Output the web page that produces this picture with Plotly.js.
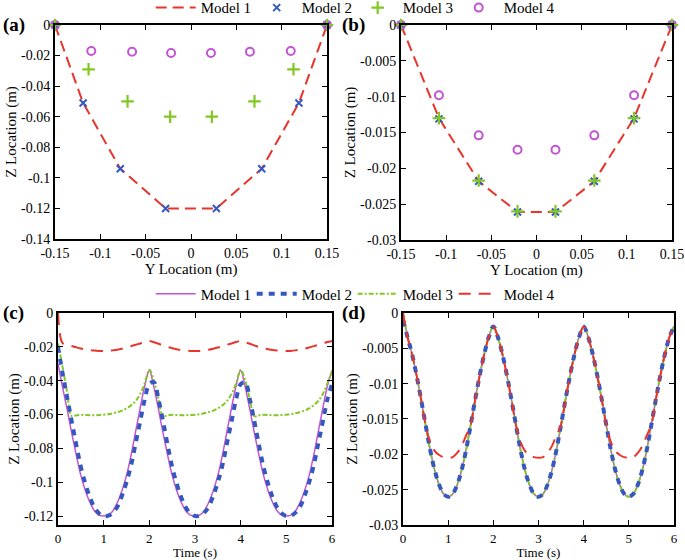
<!DOCTYPE html>
<html>
<head>
<meta charset="utf-8">
<script src="https://cdn.plot.ly/plotly-3.0.1.min.js"></script>
<style>
  html, body { margin: 0; padding: 0; background: #fff; }
  #chart { width: 685px; height: 560px; }
  svg text { font-family: "Liberation Serif", "Times New Roman", "DejaVu Serif", serif !important; }
</style>
</head>
<body>
<div id="chart"></div>
<script>
// ---- panel (a): cable shape, Z vs Y ----
const aM1Y = [-0.15, -0.119, -0.078, -0.028, 0.028, 0.078, 0.119, 0.15];
const aM1Z = [0, -0.051, -0.094, -0.120, -0.120, -0.094, -0.051, 0];
const aM2Y = [-0.15, -0.119, -0.078, -0.028, 0.028, 0.078, 0.119, 0.15];
const aM2Z = [0, -0.051, -0.094, -0.120, -0.120, -0.094, -0.051, 0];
const aM3Y = [-0.15, -0.113, -0.070, -0.023, 0.023, 0.070, 0.113, 0.15];
const aM3Z = [0, -0.029, -0.050, -0.060, -0.060, -0.050, -0.029, 0];
const aM4Y = [-0.15, -0.110, -0.065, -0.022, 0.022, 0.065, 0.110, 0.15];
const aM4Z = [0, -0.0170, -0.0175, -0.0183, -0.0183, -0.0175, -0.0170, 0];

// ---- panel (b) ----
const bM1Y = [-0.15, -0.108, -0.064, -0.021, 0.021, 0.064, 0.108, 0.15];
const bM1Z = [0, -0.0130, -0.0218, -0.0261, -0.0261, -0.0218, -0.0130, 0];
const bM2Y = [-0.15, -0.108, -0.064, -0.021, 0.021, 0.064, 0.108, 0.15];
const bM2Z = [0, -0.0131, -0.0218, -0.0261, -0.0261, -0.0218, -0.0131, 0];
const bM3Y = [-0.15, -0.108, -0.064, -0.021, 0.021, 0.064, 0.108, 0.15];
const bM3Z = [0, -0.0130, -0.0217, -0.0260, -0.0260, -0.0217, -0.0130, 0];
const bM4Y = [-0.15, -0.108, -0.064, -0.021, 0.021, 0.064, 0.108, 0.15];
const bM4Z = [0, -0.0098, -0.0154, -0.0174, -0.0174, -0.0154, -0.0098, 0];

// ---- time axis for (c) and (d) ----
const time = [0, 0.1, 0.2, 0.3, 0.4, 0.5, 0.6, 0.7, 0.8, 0.9,
  1, 1.1, 1.2, 1.3, 1.4, 1.5, 1.6, 1.7, 1.8, 1.9,
  2, 2.1, 2.2, 2.3, 2.4, 2.5, 2.6, 2.7, 2.8, 2.9,
  3, 3.1, 3.2, 3.3, 3.4, 3.5, 3.6, 3.7, 3.8, 3.9,
  4, 4.1, 4.2, 4.3, 4.4, 4.5, 4.6, 4.7, 4.8, 4.9,
  5, 5.1, 5.2, 5.3, 5.4, 5.5, 5.6, 5.7, 5.8, 5.9, 6];

// ---- panel (c): Z at midpoint vs time ----
const cM1 = [-0.030, -0.044, -0.057, -0.071, -0.084, -0.096, -0.105, -0.112, -0.117, -0.1195,
  -0.120, -0.1195, -0.117, -0.112, -0.105, -0.096, -0.084, -0.070, -0.056, -0.043,
  -0.034, -0.044, -0.057, -0.071, -0.084, -0.096, -0.105, -0.112, -0.117, -0.1195,
  -0.120, -0.1195, -0.117, -0.112, -0.105, -0.096, -0.084, -0.070, -0.056, -0.043,
  -0.034, -0.044, -0.057, -0.071, -0.084, -0.096, -0.105, -0.112, -0.117, -0.1195,
  -0.120, -0.1195, -0.117, -0.112, -0.105, -0.096, -0.084, -0.070, -0.056, -0.043, -0.034];
const cM2 = [-0.020, -0.036, -0.050, -0.064, -0.078, -0.091, -0.101, -0.109, -0.115, -0.1185,
  -0.120, -0.1198, -0.118, -0.1145, -0.108, -0.100, -0.090, -0.077, -0.064, -0.051,
  -0.042, -0.041, -0.051, -0.064, -0.078, -0.091, -0.101, -0.109, -0.115, -0.1185,
  -0.120, -0.1198, -0.118, -0.1145, -0.108, -0.100, -0.090, -0.077, -0.064, -0.051,
  -0.042, -0.041, -0.051, -0.064, -0.078, -0.091, -0.101, -0.109, -0.115, -0.1185,
  -0.120, -0.1198, -0.118, -0.1145, -0.108, -0.100, -0.090, -0.077, -0.064, -0.051, -0.042];
const cM3 = [-0.018, -0.032, -0.047, -0.061, -0.0605, -0.0602, -0.0603, -0.0604, -0.0604, -0.0603,
  -0.0601, -0.0598, -0.0593, -0.0586, -0.0577, -0.0564, -0.0546, -0.0520, -0.0478, -0.0415,
  -0.0335, -0.040, -0.051, -0.061, -0.0605, -0.0602, -0.0603, -0.0604, -0.0604, -0.0603,
  -0.0601, -0.0598, -0.0593, -0.0586, -0.0577, -0.0564, -0.0546, -0.0520, -0.0478, -0.0415,
  -0.0335, -0.040, -0.051, -0.061, -0.0605, -0.0602, -0.0603, -0.0604, -0.0604, -0.0603,
  -0.0601, -0.0598, -0.0593, -0.0586, -0.0577, -0.0564, -0.0546, -0.0520, -0.0478, -0.0415, -0.0345];
const cM4 = [0, -0.0178, -0.0186, -0.0195, -0.0203, -0.0210, -0.0215, -0.0219, -0.0222, -0.0224,
  -0.0225, -0.0224, -0.0221, -0.0217, -0.0211, -0.0204, -0.0196, -0.0188, -0.0180, -0.0172,
  -0.0165, -0.0173, -0.0182, -0.0192, -0.0201, -0.0208, -0.0214, -0.0219, -0.0222, -0.0224,
  -0.0225, -0.0224, -0.0221, -0.0217, -0.0211, -0.0204, -0.0196, -0.0188, -0.0180, -0.0172,
  -0.0165, -0.0173, -0.0182, -0.0192, -0.0201, -0.0208, -0.0214, -0.0219, -0.0222, -0.0224,
  -0.0225, -0.0224, -0.0221, -0.0217, -0.0211, -0.0204, -0.0196, -0.0188, -0.0180, -0.0172, -0.0165];

// ---- panel (d) ----
const dM1 = [0, -0.0034, -0.0058, -0.0088, -0.0122, -0.0158, -0.0193, -0.0222, -0.0243, -0.0256,
  -0.0260, -0.0256, -0.0243, -0.0222, -0.0193, -0.0158, -0.0122, -0.0088, -0.0058, -0.0034,
  -0.0019, -0.0034, -0.0058, -0.0088, -0.0122, -0.0158, -0.0193, -0.0222, -0.0243, -0.0256,
  -0.0260, -0.0256, -0.0243, -0.0222, -0.0193, -0.0158, -0.0122, -0.0088, -0.0058, -0.0034,
  -0.0019, -0.0034, -0.0058, -0.0088, -0.0122, -0.0158, -0.0193, -0.0222, -0.0243, -0.0256,
  -0.0260, -0.0256, -0.0243, -0.0222, -0.0193, -0.0158, -0.0122, -0.0088, -0.0058, -0.0034, -0.0019];
const dM2 = [-0.0010, -0.0034, -0.0058, -0.0088, -0.0122, -0.0158, -0.0193, -0.0222, -0.0243, -0.0256,
  -0.0260, -0.0256, -0.0243, -0.0222, -0.0193, -0.0158, -0.0122, -0.0088, -0.0058, -0.0034,
  -0.0019, -0.0034, -0.0058, -0.0088, -0.0122, -0.0158, -0.0193, -0.0222, -0.0243, -0.0256,
  -0.0260, -0.0256, -0.0243, -0.0222, -0.0193, -0.0158, -0.0122, -0.0088, -0.0058, -0.0034,
  -0.0019, -0.0034, -0.0058, -0.0088, -0.0122, -0.0158, -0.0193, -0.0222, -0.0243, -0.0256,
  -0.0260, -0.0256, -0.0243, -0.0222, -0.0193, -0.0158, -0.0122, -0.0088, -0.0058, -0.0034, -0.0019];
const dM3 = [0, -0.0033, -0.0058, -0.0088, -0.0122, -0.0158, -0.0193, -0.0222, -0.0243, -0.0256,
  -0.0260, -0.0256, -0.0243, -0.0222, -0.0193, -0.0158, -0.0122, -0.0088, -0.0058, -0.0034,
  -0.0019, -0.0034, -0.0058, -0.0088, -0.0122, -0.0158, -0.0193, -0.0222, -0.0243, -0.0256,
  -0.0260, -0.0256, -0.0243, -0.0222, -0.0193, -0.0158, -0.0122, -0.0088, -0.0058, -0.0034,
  -0.0019, -0.0034, -0.0058, -0.0088, -0.0122, -0.0158, -0.0193, -0.0222, -0.0243, -0.0256,
  -0.0260, -0.0256, -0.0243, -0.0222, -0.0193, -0.0158, -0.0122, -0.0088, -0.0058, -0.0034, -0.0019];
const dM4 = [0, -0.0034, -0.0058, -0.0088, -0.0122, -0.0158, -0.0182, -0.0195, -0.0201, -0.0204,
  -0.0205, -0.0204, -0.0198, -0.0188, -0.0173, -0.0158, -0.0122, -0.0088, -0.0058, -0.0034,
  -0.0019, -0.0034, -0.0058, -0.0088, -0.0122, -0.0158, -0.0182, -0.0195, -0.0201, -0.0204,
  -0.0205, -0.0204, -0.0198, -0.0188, -0.0173, -0.0158, -0.0122, -0.0088, -0.0058, -0.0034,
  -0.0019, -0.0034, -0.0058, -0.0088, -0.0122, -0.0158, -0.0182, -0.0195, -0.0201, -0.0204,
  -0.0205, -0.0204, -0.0198, -0.0188, -0.0173, -0.0158, -0.0122, -0.0088, -0.0058, -0.0034, -0.0019];

// ---- tick labels ----
const yLocTicks = [-0.15, -0.1, -0.05, 0, 0.05, 0.1, 0.15];
const yLocLabels = ['-0.15', '-0.1', '-0.05', '0', '0.05', '0.1', '0.15'];
const zTicksA = [-0.14, -0.12, -0.1, -0.08, -0.06, -0.04, -0.02, 0];
const zLabelsA = ['-0.14', '-0.12', '-0.1', '-0.08', '-0.06', '-0.04', '-0.02', '0'];
const zTicksB = [-0.03, -0.025, -0.02, -0.015, -0.01, -0.005, 0];
const zLabelsB = ['-0.03', '-0.025', '-0.02', '-0.015', '-0.01', '-0.005', '0'];
const timeTicks = [0, 1, 2, 3, 4, 5, 6];
const timeLabels = ['0', '1', '2', '3', '4', '5', '6'];
const zTicksC = [-0.12, -0.1, -0.08, -0.06, -0.04, -0.02, 0];
const zLabelsC = ['-0.12', '-0.1', '-0.08', '-0.06', '-0.04', '-0.02', '0'];

const RED = '#e8352b', BLUE = '#3558c0', GREEN = '#82c823', PURPLE = '#c256d2';
const FONT = 'Liberation Serif';

function axis(domain, anchor, range, vals, labels, title, small) {
  return {
    domain: domain, anchor: anchor, range: range, automargin: false,
    tickmode: 'array', tickvals: vals, ticktext: labels,
    ticks: 'inside', ticklen: 5, tickwidth: 1, tickcolor: 'black',
    showline: true, mirror: 'ticks', linewidth: 2, linecolor: 'black',
    showgrid: false, zeroline: false,
    tickfont: { family: FONT, size: small ? 13 : 14, color: 'black' },
    title: { text: title, font: { family: FONT, size: small ? 13 : 15, color: 'black' }, standoff: small ? 0 : 1 }
  };
}

const traces = [];

// (a) and (b) shape panels
[[aM1Y, aM1Z, aM2Y, aM2Z, aM3Y, aM3Z, aM4Y, aM4Z, 'x', 'y', true],
 [bM1Y, bM1Z, bM2Y, bM2Z, bM3Y, bM3Z, bM4Y, bM4Z, 'x2', 'y2', false]].forEach(p => {
  traces.push({ x: p[0], y: p[1], xaxis: p[8], yaxis: p[9], name: 'Model 1', mode: 'lines',
    line: { color: RED, width: 2, dash: '11px,6px' }, showlegend: p[10], legend: 'legend', legendrank: 1 });
  traces.push({ x: p[2], y: p[3], xaxis: p[8], yaxis: p[9], name: 'Model 2', mode: 'markers',
    marker: { symbol: 'x-thin', size: 7, line: { color: BLUE, width: 2 } },
    cliponaxis: false, showlegend: p[10], legend: 'legend', legendrank: 2 });
  traces.push({ x: p[6], y: p[7], xaxis: p[8], yaxis: p[9], name: 'Model 4', mode: 'markers',
    marker: { symbol: 'circle-open', size: 8, color: PURPLE, line: { color: PURPLE, width: 2 } },
    cliponaxis: false, showlegend: p[10], legend: 'legend', legendrank: 4 });
  traces.push({ x: p[4], y: p[5], xaxis: p[8], yaxis: p[9], name: 'Model 3', mode: 'markers',
    marker: { symbol: 'cross-thin', size: 9, line: { color: GREEN, width: 2.2 } },
    cliponaxis: false, showlegend: p[10], legend: 'legend', legendrank: 3 });
});

// (c) and (d) time histories
[[cM1, cM2, cM3, cM4, 'x3', 'y3', true], [dM1, dM2, dM3, dM4, 'x4', 'y4', false]].forEach(p => {
  traces.push({ x: time, y: p[0], xaxis: p[4], yaxis: p[5], name: 'Model 1', mode: 'lines',
    line: { color: PURPLE, width: 1.5, shape: 'spline' }, showlegend: p[6], legend: 'legend2', legendrank: 1 });
  traces.push({ x: time, y: p[2], xaxis: p[4], yaxis: p[5], name: 'Model 3', mode: 'lines',
    line: { color: GREEN, width: 2, dash: '5px,2px,2px,2px', shape: 'spline' }, showlegend: p[6], legend: 'legend2', legendrank: 3 });
  traces.push({ x: time, y: p[1], xaxis: p[4], yaxis: p[5], name: 'Model 2', mode: 'lines',
    line: { color: BLUE, width: 4, dash: '6px,6px', shape: 'spline' }, showlegend: p[6], legend: 'legend2', legendrank: 2 });
  traces.push({ x: time, y: p[3], xaxis: p[4], yaxis: p[5], name: 'Model 4', mode: 'lines',
    line: { color: RED, width: 2, dash: '12px,8px', shape: 'spline' }, showlegend: p[6], legend: 'legend2', legendrank: 4 });
});

const legendBase = {
  orientation: 'h', xanchor: 'left', yanchor: 'middle',
  font: { family: FONT, size: 15, color: 'black' },
  entrywidth: 46, entrywidthmode: 'pixels', itemwidth: 40,
  bgcolor: 'rgba(0,0,0,0)', traceorder: 'normal'
};

const layout = {
  width: 685, height: 560,
  margin: { l: 0, r: 0, t: 0, b: 0, autoexpand: false },
  paper_bgcolor: 'white', plot_bgcolor: 'white',
  font: { family: FONT, color: 'black' },
  showlegend: true,
  legend: Object.assign({}, legendBase, { x: 0.22, y: 0.986 }),
  legend2: Object.assign({}, legendBase, { x: 0.22, y: 0.475 }),
  xaxis: axis([0.0803, 0.4774], 'y', [-0.15, 0.15], yLocTicks, yLocLabels, 'Y Location (m)'),
  yaxis: axis([0.5732, 0.9554], 'x', [-0.14, 0], zTicksA, zLabelsA, 'Z Location (m)'),
  xaxis2: axis([0.5854, 0.9810], 'y2', [-0.15, 0.15], yLocTicks, yLocLabels, 'Y Location (m)'),
  yaxis2: axis([0.5714, 0.9554], 'x2', [-0.03, 0], zTicksB, zLabelsB, 'Z Location (m)'),
  xaxis3: axis([0.0847, 0.4847], 'y3', [0, 6], timeTicks, timeLabels, 'Time (s)', true),
  yaxis3: axis([0.0625, 0.4411], 'x3', [-0.1253, 0], zTicksC, zLabelsC, 'Z Location (m)'),
  xaxis4: axis([0.5883, 0.9839], 'y4', [0, 6], timeTicks, timeLabels, 'Time (s)', true),
  yaxis4: axis([0.0625, 0.4411], 'x4', [-0.03, 0], zTicksB, zLabelsB, 'Z Location (m)'),
  annotations: [
    { text: '<b>(a)</b>', x: 0.002, y: 0.955, xref: 'paper', yref: 'paper', xanchor: 'left', yanchor: 'middle', showarrow: false, font: { family: FONT, size: 19 } },
    { text: '<b>(b)</b>', x: 0.496, y: 0.955, xref: 'paper', yref: 'paper', xanchor: 'left', yanchor: 'middle', showarrow: false, font: { family: FONT, size: 19 } },
    { text: '<b>(c)</b>', x: 0.002, y: 0.441, xref: 'paper', yref: 'paper', xanchor: 'left', yanchor: 'middle', showarrow: false, font: { family: FONT, size: 19 } },
    { text: '<b>(d)</b>', x: 0.496, y: 0.441, xref: 'paper', yref: 'paper', xanchor: 'left', yanchor: 'middle', showarrow: false, font: { family: FONT, size: 19 } }
  ]
};

Plotly.newPlot('chart', traces, layout, { displayModeBar: false, staticPlot: true });
</script>
</body>
</html>
